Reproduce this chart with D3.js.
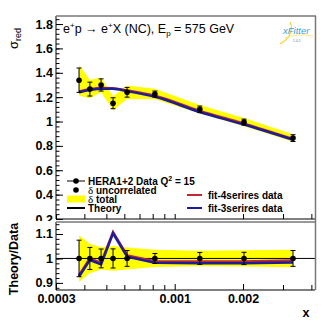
<!DOCTYPE html>
<html lang="en">
  <head>
    <meta charset="UTF-8" />
    <title>sigma_red Q2 = 15</title>
    <script src="https://d3js.org/d3.v7.min.js"></script>
    <style>
      body {
        margin: 0;
        background: white;
        font-family: "Liberation Sans", Arial, sans-serif;
      }
      .tick text {
        font-family: "Liberation Sans", Arial, sans-serif;
        font-weight: bold;
        font-size: 12.5px;
        fill: black;
      }
      .domain {
        display: none;
      }
      .leg {
        font-weight: bold;
        font-size: 10px;
      }
    </style>
  </head>
  <body>
    <div id="chart"></div>
    <script>
      // data
      const xVals = [0.000379, 0.000423, 0.000474, 0.000535, 0.000617, 0.000818, 0.00129, 0.00202, 0.00332];
      const sigma = [1.339, 1.266, 1.3, 1.15, 1.24, 1.225, 1.1, 0.995, 0.864];
      const errUnc = [0.1, 0.057, 0.05, 0.045, 0.04, 0.025, 0.027, 0.025, 0.028];
      const errTot = [0.127, 0.076, 0.059, 0.058, 0.056, 0.043, 0.035, 0.033, 0.031];
      const fit4 = [1.247, 1.265, 1.276, 1.274, 1.255, 1.211, 1.086, 0.983, 0.857];
      const fit3 = [1.24, 1.258, 1.269, 1.268, 1.249, 1.203, 1.078, 0.975, 0.85];

      const yTicksTop = [0.2, 0.4, 0.6, 0.8, 1, 1.2, 1.4, 1.6, 1.8];
      const yTicksRatio = [0.9, 1, 1.1];
      const xTickLabels = [0.0003, 0.001, 0.002];
      const xMinor = [0.0004, 0.0005, 0.0006, 0.0007, 0.0008, 0.0009, 0.003, 0.004];

      const W = 332, H = 323;
      const left = 56, right = 315;
      const top1 = 16, bot1 = 219;
      const top2 = 222, bot2 = 290;

      const svg = d3.select("#chart").append("svg")
        .attr("width", W).attr("height", H);

      const x = d3.scaleLog().domain([0.0003, 0.00415]).range([left, right]);
      const y1 = d3.scaleLinear().domain([0.2, 1.866]).range([bot1, top1]);
      const y2 = d3.scaleLinear().domain([0.871, 1.149]).range([bot2, top2]);

      const pts = xVals.map((xv, i) => ({
        x: xv, s: sigma[i], u: errUnc[i], t: errTot[i], f4: fit4[i], f3: fit3[i]
      }));

      const RED = "#c0282d", BLUE = "#1d1d9c";
      const fmt = (d) => String(+d.toFixed(4));

      // ---------- top pad ----------
      const g1 = svg.append("g");

      g1.append("path").datum(pts)
        .attr("fill", "#ffff00")
        .attr("d", d3.area().x((d) => x(d.x)).y0((d) => y1(d.s - d.t)).y1((d) => y1(d.s + d.t)));

      const curve = d3.line().x((d) => x(d.x)).curve(d3.curveMonotoneX);
      g1.append("path").datum(pts).attr("fill", "none").attr("stroke", RED).attr("stroke-width", 2.5)
        .attr("d", curve.y((d) => y1(d.f4)));
      g1.append("path").datum(pts).attr("fill", "none").attr("stroke", BLUE).attr("stroke-width", 2.5)
        .attr("d", curve.y((d) => y1(d.f3)));

      function errBars(g, yScale, lo, hi) {
        const e = g.selectAll(null).data(pts).enter().append("g").attr("stroke", "black").attr("stroke-width", 1);
        e.append("line").attr("x1", (d) => x(d.x)).attr("x2", (d) => x(d.x))
          .attr("y1", (d) => yScale(lo(d))).attr("y2", (d) => yScale(hi(d)));
        e.append("line").attr("x1", (d) => x(d.x) - 2.5).attr("x2", (d) => x(d.x) + 2.5)
          .attr("y1", (d) => yScale(lo(d))).attr("y2", (d) => yScale(lo(d)));
        e.append("line").attr("x1", (d) => x(d.x) - 2.5).attr("x2", (d) => x(d.x) + 2.5)
          .attr("y1", (d) => yScale(hi(d))).attr("y2", (d) => yScale(hi(d)));
      }
      errBars(g1, y1, (d) => d.s - d.u, (d) => d.s + d.u);
      g1.selectAll(null).data(pts).enter().append("circle")
        .attr("cx", (d) => x(d.x)).attr("cy", (d) => y1(d.s)).attr("r", 2.8).attr("fill", "black");

      // axes top pad
      g1.append("g").attr("transform", `translate(${left},0)`)
        .call(d3.axisLeft(y1).tickValues(d3.range(0.2, 1.8601, 0.04)).tickSize(-3.5).tickFormat(""));
      g1.append("g").attr("transform", `translate(${left},0)`)
        .call(d3.axisLeft(y1).tickValues(yTicksTop).tickSize(-7).tickPadding(3).tickFormat(fmt));
      g1.append("g").attr("transform", `translate(0,${bot1})`)
        .call(d3.axisBottom(x).tickValues(xTickLabels.concat(xMinor)).tickSize(-5).tickFormat(""));
      g1.append("line").attr("x1", left).attr("x2", left).attr("y1", top1).attr("y2", bot1).attr("stroke", "black");
      g1.append("line").attr("x1", left).attr("x2", right).attr("y1", bot1).attr("y2", bot1).attr("stroke", "black");
      g1.append("line").attr("x1", left).attr("x2", right + 1).attr("y1", top1).attr("y2", top1).attr("stroke", "#777").attr("stroke-width", 1.5);

      // title
      const title = g1.append("text").attr("x", 63).attr("y", 33).attr("font-size", 12.5);
      title.append("tspan").text("e");
      title.append("tspan").attr("font-size", 8).attr("dy", -5).text("+");
      title.append("tspan").attr("dy", 5).text("p \u2192 e");
      title.append("tspan").attr("font-size", 8).attr("dy", -5).text("+");
      title.append("tspan").attr("dy", 5).text("X (NC), E");
      title.append("tspan").attr("font-size", 8).attr("dy", 3).text("p");
      title.append("tspan").attr("dy", -3).text(" = 575 GeV");

      // xFitter logo
      const logo = g1.append("g").attr("transform", "translate(283,22)");
      logo.append("path").attr("d", "M7,0 C9,4 9,9 6,14 C4,18 0,20 -3,22").attr("fill", "none").attr("stroke", "#f5d23c").attr("stroke-width", 1.2);
      logo.append("path").attr("d", "M2,16 C10,13 20,12 30,14").attr("fill", "none").attr("stroke", "#ffe680").attr("stroke-width", 1);
      logo.append("text").attr("x", 0).attr("y", 12).attr("font-size", 9.5).attr("font-style", "italic").attr("fill", "#3aa0dc").text("xFitter");
      logo.append("text").attr("x", 10).attr("y", 20).attr("font-size", 3.5).attr("fill", "#777").text("1.0.1");

      // legend left
      const lx = 67, lx2 = 85, tx = 88;
      const rows = [181, 190, 199, 208];
      g1.append("line").attr("x1", lx).attr("x2", lx2).attr("y1", rows[0]).attr("y2", rows[0]).attr("stroke", "black");
      g1.append("circle").attr("cx", (lx + lx2) / 2).attr("cy", rows[0]).attr("r", 2.8);
      g1.append("circle").attr("cx", (lx + lx2) / 2).attr("cy", rows[1]).attr("r", 2.8);
      g1.append("rect").attr("x", lx).attr("y", rows[2] - 3.5).attr("width", lx2 - lx).attr("height", 7).attr("fill", "#ffff00");
      g1.append("line").attr("x1", lx).attr("x2", lx2).attr("y1", rows[3]).attr("y2", rows[3]).attr("stroke", "black").attr("stroke-width", 2);

      const t0 = g1.append("text").attr("class", "leg").attr("x", tx).attr("y", rows[0] + 3.6);
      t0.append("tspan").text("HERA1+2 Data Q");
      t0.append("tspan").attr("font-size", 7).attr("dy", -4).text("2");
      t0.append("tspan").attr("dy", 4).text(" = 15");
      const t1 = g1.append("text").attr("class", "leg").attr("x", tx).attr("y", rows[1] + 3.6);
      t1.append("tspan").attr("font-family", "Liberation Serif, serif").attr("font-weight", "normal").attr("font-size", 11).text("\u03b4");
      t1.append("tspan").text(" uncorrelated");
      const t2 = g1.append("text").attr("class", "leg").attr("x", tx).attr("y", rows[2] + 3.6);
      t2.append("tspan").attr("font-family", "Liberation Serif, serif").attr("font-weight", "normal").attr("font-size", 11).text("\u03b4");
      t2.append("tspan").text(" total");
      g1.append("text").attr("class", "leg").attr("x", tx).attr("y", rows[3] + 3.6).text("Theory");

      // legend right
      const fits = [["fit-4serires data", RED, 195], ["fit-3serires data", BLUE, 208]];
      fits.forEach(([label, col, yy]) => {
        g1.append("line").attr("x1", 187).attr("x2", 202).attr("y1", yy).attr("y2", yy).attr("stroke", col).attr("stroke-width", 2);
        g1.append("text").attr("class", "leg").attr("x", 208).attr("y", yy + 3.6).text(label);
      });

      // y title
      const yt = svg.append("text").attr("transform", "translate(18,49) rotate(-90)").attr("font-size", 13);
      yt.append("tspan").text("\u03c3");
      yt.append("tspan").attr("font-size", 9).attr("dy", 3).text("red");

      // ---------- ratio pad ----------
      svg.append("rect").attr("x", 0).attr("y", 221).attr("width", W).attr("height", H - 221).attr("fill", "white");
      const g2 = svg.append("g");

      g2.append("path").datum(pts).attr("fill", "#ffff00")
        .attr("d", d3.area().x((d) => x(d.x)).y0((d) => y2(1 - d.t / d.s)).y1((d) => y2(1 + d.t / d.s)));
      g2.append("line").attr("x1", left).attr("x2", right + 1).attr("y1", y2(1)).attr("y2", y2(1)).attr("stroke", "black");

      const rline = d3.line().x((d) => x(d.x));
      g2.append("path").datum(pts).attr("fill", "none").attr("stroke", RED).attr("stroke-width", 2.5)
        .attr("d", rline.y((d) => y2(d.f4 / d.s)));
      g2.append("path").datum(pts).attr("fill", "none").attr("stroke", BLUE).attr("stroke-width", 2.5)
        .attr("d", rline.y((d) => y2(d.f3 / d.s)));

      errBars(g2, y2, (d) => 1 - d.u / d.s, (d) => 1 + d.u / d.s);
      g2.selectAll(null).data(pts).enter().append("circle")
        .attr("cx", (d) => x(d.x)).attr("cy", y2(1)).attr("r", 2.8).attr("fill", "black");

      g2.append("g").attr("transform", `translate(${left},0)`)
        .call(d3.axisLeft(y2).tickValues(d3.range(0.88, 1.141, 0.02)).tickSize(-3.5).tickFormat(""));
      g2.append("g").attr("transform", `translate(${left},0)`)
        .call(d3.axisLeft(y2).tickValues(yTicksRatio).tickSize(-7).tickPadding(3).tickFormat(fmt));
      g2.append("g").attr("transform", `translate(0,${bot2})`)
        .call(d3.axisBottom(x).tickValues(xMinor).tickSize(-5).tickFormat(""));
      g2.append("g").attr("transform", `translate(0,${bot2})`)
        .call(d3.axisBottom(x).tickValues(xTickLabels).tickSize(-6).tickPadding(4).tickFormat(fmt));
      g2.append("line").attr("x1", left).attr("x2", left).attr("y1", top2).attr("y2", bot2).attr("stroke", "black");
      g2.append("line").attr("x1", left).attr("x2", right).attr("y1", bot2).attr("y2", bot2).attr("stroke", "black");
      g2.append("line").attr("x1", left).attr("x2", right + 1).attr("y1", top2).attr("y2", top2).attr("stroke", "#777").attr("stroke-width", 1.5);

      // right border of both pads
      svg.append("line").attr("x1", right + 0.5).attr("x2", right + 0.5).attr("y1", top1).attr("y2", bot2).attr("stroke", "#777").attr("stroke-width", 1.5);

      svg.append("text").attr("transform", "translate(18,259) rotate(-90)").attr("text-anchor", "middle")
        .attr("font-weight", "bold").attr("font-size", 12.5).text("Theory/Data");
      svg.append("text").attr("x", 306).attr("y", 317).attr("text-anchor", "middle")
        .attr("font-weight", "bold").attr("font-size", 12.5).text("x");
    </script>
  </body>
</html>
